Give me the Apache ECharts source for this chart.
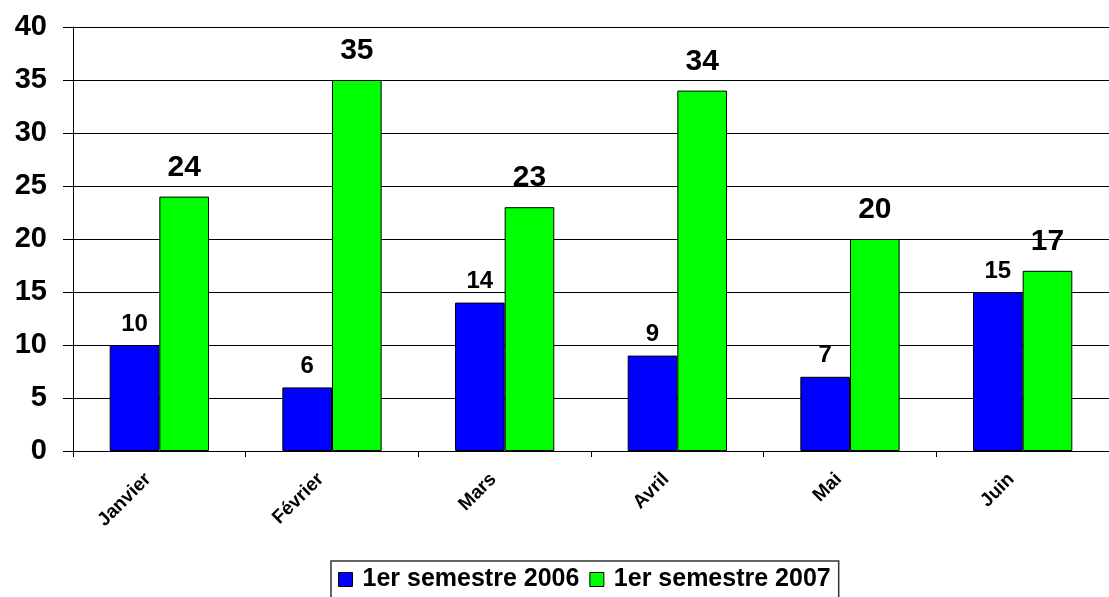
<!DOCTYPE html>
<html>
<head>
<meta charset="utf-8">
<script src="https://cdn.jsdelivr.net/npm/echarts@6/dist/echarts.min.js"></script>
<style>
  html, body { margin: 0; padding: 0; background: #fff; }
  #chart { width: 1109px; height: 597px; }
</style>
</head>
<body>
<div id="chart"></div>
<script>
// data
const months = ['Janvier', 'Février', 'Mars', 'Avril', 'Mai', 'Juin']
const s2006 = [10, 6, 14, 9, 7, 15]
const s2007 = [24, 35, 23, 34, 20, 17]
const seriesNames = ['1er semestre 2006', '1er semestre 2007']

const font = 'Liberation Sans, Arial, sans-serif'

const chart = echarts.init(document.getElementById('chart'))
chart.setOption({
  animation: false,
  textStyle: { fontFamily: font },
  // the plot runs a little past the right edge, like the original
  grid: { left: 73, right: -12, top: 27, bottom: 146 },
  legend: {
    data: seriesNames,
    top: 561,
    left: 331,
    icon: 'rect',
    itemWidth: 14,
    itemHeight: 14,
    itemGap: 10,
    itemStyle: { borderColor: '#000', borderWidth: 1 },
    borderColor: '#333',
    borderWidth: 1.5,
    padding: [6, 8, 10, 7],
    textStyle: {
      fontSize: 25,
      fontWeight: 'bold',
      color: '#000',
      fontFamily: font,
      padding: [0, 0, 0, 5]
    }
  },
  xAxis: {
    type: 'category',
    data: months,
    axisLine: { lineStyle: { color: '#000', width: 1 } },
    axisTick: { show: true, length: 6, lineStyle: { color: '#000' } },
    axisLabel: {
      rotate: 45,
      margin: 14,
      padding: [0, 16, 0, 0],
      color: '#000',
      fontSize: 19,
      fontWeight: 'bold',
      fontFamily: font
    }
  },
  yAxis: {
    type: 'value',
    min: 0,
    max: 40,
    interval: 5,
    axisLine: { show: true, lineStyle: { color: '#000', width: 1 } },
    axisTick: { show: true, length: 10, lineStyle: { color: '#000' } },
    splitLine: { lineStyle: { color: '#000', width: 1 } },
    axisLabel: {
      margin: 26,
      color: '#000',
      fontSize: 29,
      fontWeight: 'bold',
      fontFamily: font
    }
  },
  series: [
    {
      name: seriesNames[0],
      type: 'bar',
      data: s2006,
      barGap: '0%',
      barCategoryGap: '42.5%',
      itemStyle: { color: '#0000FF', borderColor: '#000', borderWidth: 1 },
      label: {
        show: true,
        position: 'top',
        distance: 9,
        color: '#000',
        fontSize: 24,
        fontWeight: 'bold',
        fontFamily: font
      }
    },
    {
      name: seriesNames[1],
      type: 'bar',
      data: s2007,
      itemStyle: { color: '#00FF00', borderColor: '#000', borderWidth: 1 },
      label: {
        show: true,
        position: 'top',
        distance: 14,
        color: '#000',
        fontSize: 30,
        fontWeight: 'bold',
        fontFamily: font
      }
    }
  ]
})
</script>
</body>
</html>
